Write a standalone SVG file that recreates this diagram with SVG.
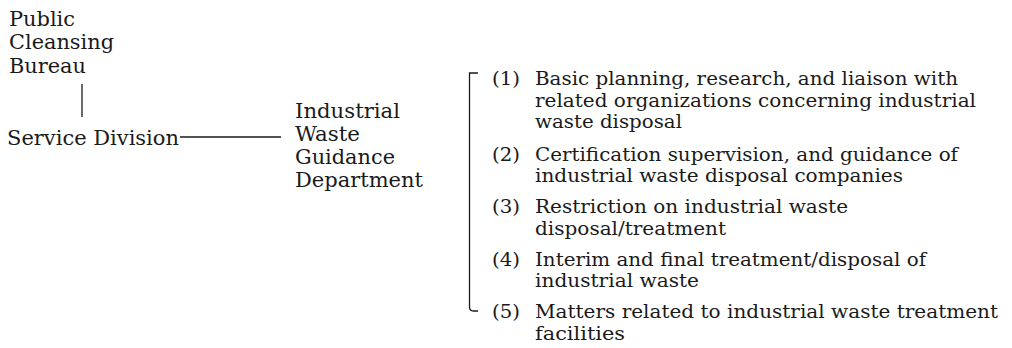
<svg xmlns="http://www.w3.org/2000/svg" width="1012" height="348" viewBox="0 0 1012 348">
<style>
text{font-family:"DejaVu Serif","Liberation Serif",serif;fill:#1a1a1a}
.big{font-size:19.6px}
.item{font-size:18.4px}
.conn{fill:none;stroke:#1a1a1a;stroke-width:1.3}
</style>
<rect width="1012" height="348" fill="#ffffff"/>
<g id="connectors">
<line class="conn" x1="82" y1="84" x2="82" y2="117"/>
<line class="conn" x1="180" y1="137" x2="281" y2="137"/>
<path class="conn" d="M478 73 H469.5 V307 Q469.5 311 473.5 311 H478"/>
</g>
<g id="public-cleansing-bureau">
<text class="big" x="9" y="26" textLength="66" lengthAdjust="spacingAndGlyphs">Public</text>
<text class="big" x="9" y="49" textLength="105" lengthAdjust="spacingAndGlyphs">Cleansing</text>
<text class="big" x="9" y="72.5" textLength="77" lengthAdjust="spacingAndGlyphs">Bureau</text>
</g>
<g id="service-division">
<text class="big" x="7" y="145" textLength="172" lengthAdjust="spacingAndGlyphs">Service Division</text>
</g>
<g id="industrial-waste-guidance-department">
<text class="big" x="295" y="118" textLength="105" lengthAdjust="spacingAndGlyphs">Industrial</text>
<text class="big" x="295" y="141" textLength="65" lengthAdjust="spacingAndGlyphs">Waste</text>
<text class="big" x="295" y="164" textLength="100" lengthAdjust="spacingAndGlyphs">Guidance</text>
<text class="big" x="295" y="187" textLength="128" lengthAdjust="spacingAndGlyphs">Department</text>
</g>
<g id="item-1">
<text class="item" x="492" y="85" textLength="28" lengthAdjust="spacingAndGlyphs">(1)</text>
<text class="item" x="535" y="85" textLength="423" lengthAdjust="spacingAndGlyphs">Basic planning, research, and liaison with</text>
<text class="item" x="535" y="106.5" textLength="441" lengthAdjust="spacingAndGlyphs">related organizations concerning industrial</text>
<text class="item" x="535" y="128" textLength="147" lengthAdjust="spacingAndGlyphs">waste disposal</text>
</g>
<g id="item-2">
<text class="item" x="492" y="160.5" textLength="28" lengthAdjust="spacingAndGlyphs">(2)</text>
<text class="item" x="535" y="160.5" textLength="423" lengthAdjust="spacingAndGlyphs">Certification supervision, and guidance of</text>
<text class="item" x="535" y="182" textLength="368" lengthAdjust="spacingAndGlyphs">industrial waste disposal companies</text>
</g>
<g id="item-3">
<text class="item" x="492" y="213" textLength="28" lengthAdjust="spacingAndGlyphs">(3)</text>
<text class="item" x="535" y="213" textLength="313" lengthAdjust="spacingAndGlyphs">Restriction on industrial waste</text>
<text class="item" x="535" y="234.5" textLength="191" lengthAdjust="spacingAndGlyphs">disposal/treatment</text>
</g>
<g id="item-4">
<text class="item" x="492" y="265.5" textLength="28" lengthAdjust="spacingAndGlyphs">(4)</text>
<text class="item" x="535" y="265.5" textLength="391" lengthAdjust="spacingAndGlyphs">Interim and final treatment/disposal of</text>
<text class="item" x="535" y="287" textLength="164" lengthAdjust="spacingAndGlyphs">industrial waste</text>
</g>
<g id="item-5">
<text class="item" x="492" y="318" textLength="28" lengthAdjust="spacingAndGlyphs">(5)</text>
<text class="item" x="535" y="318" textLength="463" lengthAdjust="spacingAndGlyphs">Matters related to industrial waste treatment</text>
<text class="item" x="535" y="339.5" textLength="90" lengthAdjust="spacingAndGlyphs">facilities</text>
</g>
</svg>
